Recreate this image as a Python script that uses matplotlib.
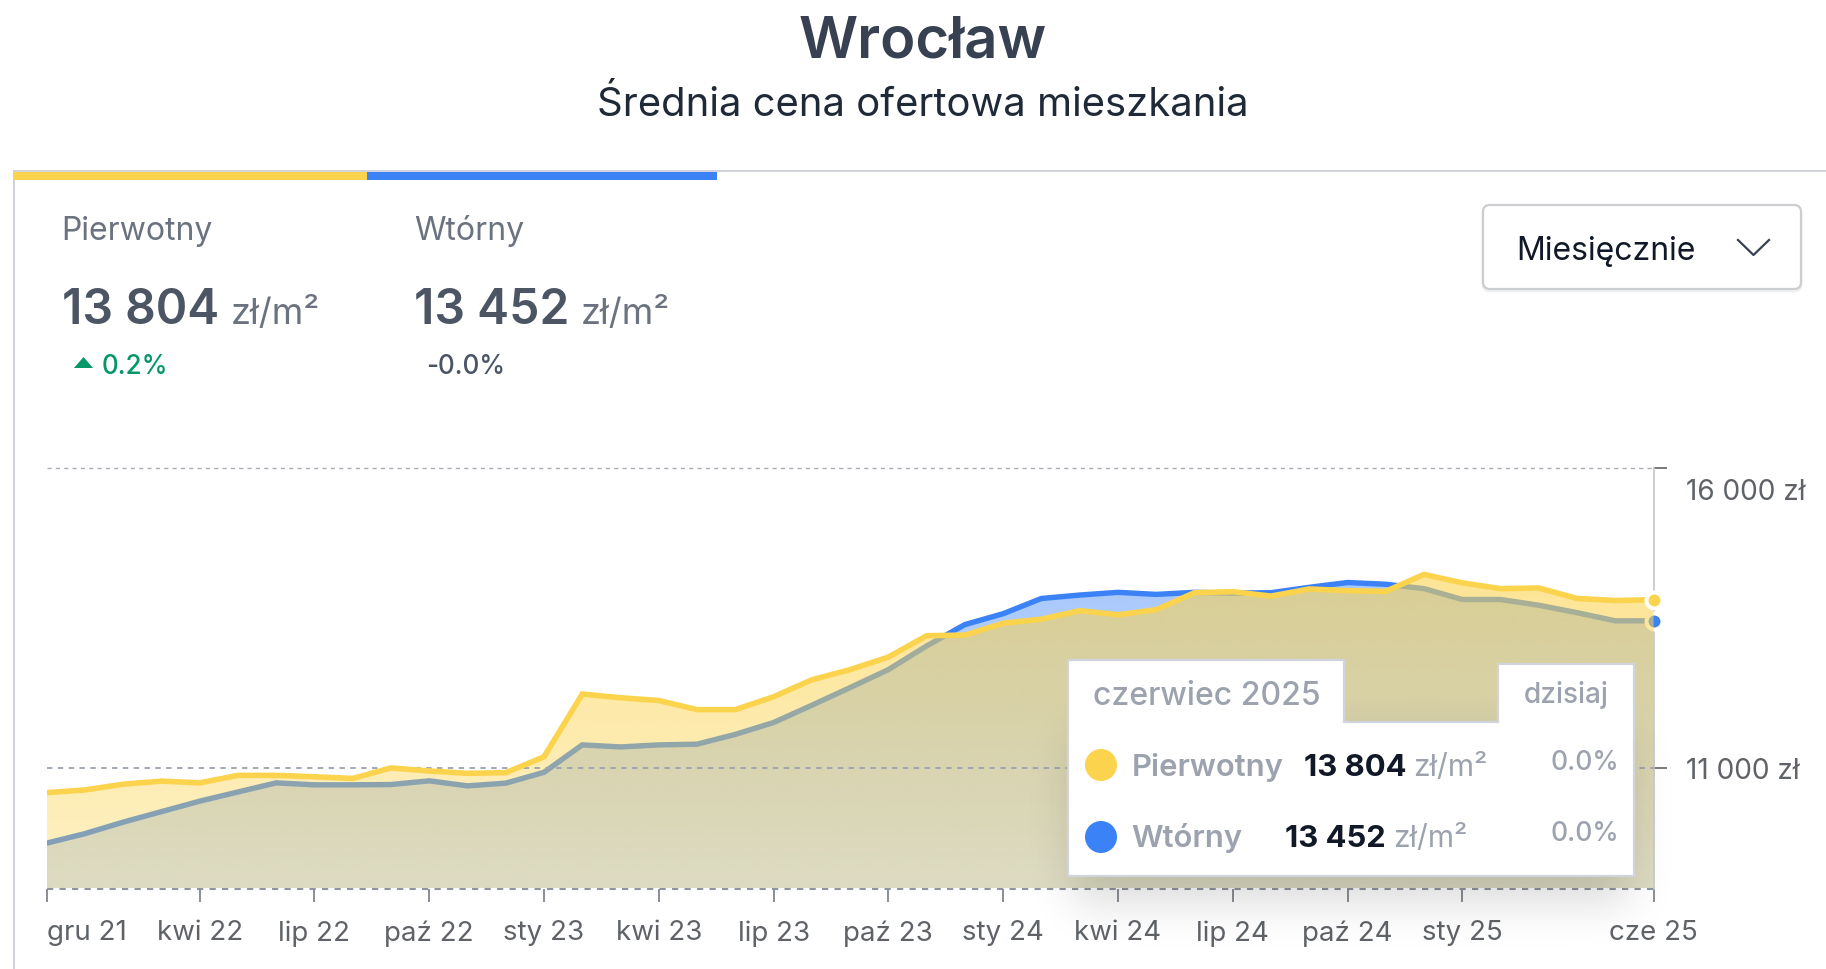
import math
import numpy as np
import matplotlib
matplotlib.use("Agg")
import matplotlib.pyplot as plt
from matplotlib.patches import Polygon, Rectangle, FancyBboxPatch, Circle, PathPatch
from matplotlib.transforms import ScaledTranslation

plt.rcParams['font.family'] = ['Inter', 'DejaVu Sans']

# ---------- data ----------
primary = [10588, 10633, 10729, 10780, 10751, 10876, 10876, 10853, 10825, 11000, 10949,
           10910, 10921, 11186, 12232, 12170, 12124, 11972, 11972, 12187, 12469, 12639,
           12848, 13204, 13215, 13413, 13480, 13622, 13554, 13639, 13921, 13938, 13865,
           13983, 13955, 13944, 14226, 14085, 13989, 14000, 13825, 13791, 13804]
secondary = [9746, 9904, 10096, 10271, 10446, 10599, 10751, 10718, 10718, 10723, 10785,
             10701, 10746, 10927, 11384, 11350, 11384, 11396, 11559, 11757, 12045, 12339,
             12639, 13034, 13390, 13571, 13825, 13882, 13927, 13893, 13927, 13915, 13921,
             14011, 14091, 14062, 13989, 13808, 13808, 13712, 13588, 13452, 13452]
x_tick_months = [0, 4, 7, 10, 13, 16, 19, 22, 25, 28, 31, 34, 37, 42]
x_tick_labels = ['gru 21', 'kwi 22', 'lip 22', 'paź 22', 'sty 23', 'kwi 23', 'lip 23',
                 'paź 23', 'sty 24', 'kwi 24', 'lip 24', 'paź 24', 'sty 25', 'cze 25']
y_ticks = [11000, 16000]
y_tick_labels = ['11 000 zł', '16 000 zł']
months = np.arange(len(primary))

# ---------- palette ----------
YEL = '#FCD34D'
BLU = '#3B82F6'
G400 = '#9CA3AF'
G500 = '#6B7280'
G600 = '#4B5563'
G300 = '#D1D5DB'

W, H = 1826, 970
fig = plt.figure(figsize=(W / 100, H / 100), dpi=100, facecolor='white')

# ---------- chart axes ----------
L, R, T, B = 46.6, 1653.6, 469.0, 889.5
ax = fig.add_axes([L / W, 1 - B / H, (R - L) / W, (B - T) / H], zorder=2)
ax.set_xlim(0, 42)
ax.set_ylim(8990, 16000)
ax.patch.set_alpha(0)
for s in ax.spines.values():
    s.set_visible(False)


def gradient_fill(values, rgb, a_top, a_bot, z):
    poly = ax.fill_between(months, values, 8990, color='none', lw=0)
    path = poly.get_paths()[0]
    ys = np.linspace(0, 1, 256)[:, None]
    img = np.zeros((256, 1, 4))
    img[..., :3] = matplotlib.colors.to_rgb(rgb)
    img[..., 3] = a_top + (a_bot - a_top) * ys
    im = ax.imshow(img, extent=(0, 42, 8990, 14300), aspect='auto', origin='upper',
                   zorder=z, interpolation='bilinear')
    patch = PathPatch(path, transform=ax.transData, fc='none', ec='none')
    ax.add_patch(patch)
    im.set_clip_path(patch)


gradient_fill(secondary, BLU, 0.45, 0.25, 2)
ax.plot(months, secondary, color=BLU, lw=3.9, zorder=3, solid_joinstyle='miter')
ax.plot([42], [secondary[-1]], 'o', ms=11.5, mfc=BLU, mec='white', mew=2.9, zorder=3.5, clip_on=False)
gradient_fill(primary, YEL, 0.60, 0.33, 4)
ax.plot(months, primary, color=YEL, lw=4.0, zorder=5, solid_joinstyle='miter')
ax.plot([42], [primary[-1]], 'o', ms=11.5, mfc=YEL, mec='white', mew=2.9, zorder=6, clip_on=False)
ax.set_xlim(0, 42)
ax.set_ylim(8990, 16000)

for v, c, lw in [(16000, '#A9AEB6', 1.0), (11000, '#9CA3AF', 1.3), (8990, '#8F959E', 1.5)]:
    ax.axhline(v, color=c, lw=lw, dashes=(3, 3), zorder=4.5, clip_on=False)

ax.xaxis.set_ticks_position('bottom')
ax.yaxis.tick_right()
ax.set_xticks(x_tick_months, x_tick_labels)
ax.set_yticks(y_ticks, y_tick_labels)
ax.tick_params(axis='x', length=9, width=1.1, color='#6B6F76', pad=13,
               labelsize=27.7 * .72, labelcolor='#5F6368')
ax.tick_params(axis='y', length=9, width=1.1, color='#555555', pad=14,
               labelsize=28 * .72, labelcolor='#5F6368')
ax.spines['right'].set_visible(True)
ax.spines['right'].set_color('#C4C6CA')
ax.spines['right'].set_linewidth(1.2)
xlabs = ax.get_xticklabels()
xlabs[0].set_ha('left')
top = [t for t in ax.get_yticklabels() if t.get_text().startswith('16')]
for t in top:
    t.set_va('top')
    t.set_transform(t.get_transform() + ScaledTranslation(0, -7 / 72, fig.dpi_scale_trans))

# ---------- overlay in pixel coordinates ----------
ov = fig.add_axes([0, 0, 1, 1], zorder=3)
ov.set_xlim(0, W)
ov.set_ylim(H, 0)
ov.axis('off')
ov.patch.set_alpha(0)


def txt(x, y, s, px, color, weight='normal', ha='left'):
    ov.text(x, y, s, fontsize=px * .72, color=color, fontweight=weight, ha=ha, va='baseline', zorder=5)


txt(923, 58, 'Wrocław', 58, '#374151', 'semibold', 'center')
txt(923, 116, 'Średnia cena ofertowa mieszkania', 40, '#1F2937', 'normal', 'center')

# card frame
ov.add_patch(Rectangle((13, 171), W - 13, 2, fc=G300, ec='none'))
ov.add_patch(Rectangle((13, 171), 2, H - 171, fc=G300, ec='none'))
ov.add_patch(Rectangle((13, 172.5), 354, 8.5, fc=YEL, ec='none'))
ov.add_patch(Rectangle((367, 172.5), 350, 8.5, fc=BLU, ec='none'))

# stat blocks
txt(61, 240, 'Pierwotny', 32, G500)
txt(62, 324, '13 804', 48, G600, 'semibold')
txt(231, 324, 'zł/m²', 36, G500)
txt(102, 374, '0.2%', 26, '#059669', 'medium')
ov.add_patch(Polygon([(74, 369), (93, 369), (83.5, 358)], fc='#059669', ec='none'))
txt(414, 240, 'Wtórny', 32, G500)
txt(414, 324, '13 452', 48, G600, 'semibold')
txt(581, 324, 'zł/m²', 36, G500)
txt(426, 374, '-0.0%', 26, G600, 'medium')

# dropdown
ov.add_patch(FancyBboxPatch((1483, 208), 318, 84, boxstyle='round,pad=0,rounding_size=7',
                            fc='#E5E7EB', ec='#EEEFF1', lw=2))
ov.add_patch(FancyBboxPatch((1483, 206), 318, 84, boxstyle='round,pad=0,rounding_size=7',
                            fc='white', ec='#CBCDD1', lw=1.6))
txt(1516, 260, 'Miesięcznie', 32, '#111827')
ov.plot([1738, 1753.5, 1769], [241, 256, 241], color='#374151', lw=1.6)

# tooltip shadow
xs = np.arange(980, 1730)
ys = np.arange(700, 970)
sx, sy = 22.0, 22.0
x0, x1, y0, y1 = 1072, 1630, 735, 905
Phi = lambda u: 0.5 * (1 + math.erf(u))
px = np.array([Phi((v - x0) / sx / 1.414) - Phi((v - x1) / sx / 1.414) for v in xs])
py = np.array([Phi((v - y0) / sy / 1.414) - Phi((v - y1) / sy / 1.414) for v in ys])
shadow = np.zeros((len(ys), len(xs), 4))
shadow[..., 3] = 0.14 * np.outer(py, px)
ov.imshow(shadow, extent=(xs[0], xs[-1], ys[-1], ys[0]), aspect='auto', zorder=1)
ov.set_xlim(0, W)
ov.set_ylim(H, 0)

# tooltip body
ov.add_patch(Polygon([(1068, 661), (1344, 661), (1344, 723), (1498, 723), (1498, 665),
                      (1634, 665), (1634, 877), (1068, 877)],
                     fc='white', ec=G300, lw=1.6, zorder=2, joinstyle='miter'))

txt(1093, 705, 'czerwiec 2025', 32, G400, 'medium')
txt(1524, 703, 'dzisiaj', 28, G400, 'medium')
ov.add_patch(Circle((1101, 766), 16, fc=YEL, ec='none', zorder=4))
ov.add_patch(Circle((1101, 838), 16, fc=BLU, ec='none', zorder=4))
txt(1132, 776, 'Pierwotny', 31, G400, 'semibold')
txt(1304, 776, '13 804', 31, '#111827', 'bold')
txt(1413, 776, 'zł/m²', 30, G400)
txt(1551, 770, '0.0%', 26.5, G400, 'medium')
txt(1131, 847, 'Wtórny', 31, G400, 'semibold')
txt(1285, 847, '13 452', 31, '#111827', 'bold')
txt(1393, 847, 'zł/m²', 30, G400)
txt(1551, 841, '0.0%', 26.5, G400, 'medium')

fig.savefig('out.png', dpi=100)
